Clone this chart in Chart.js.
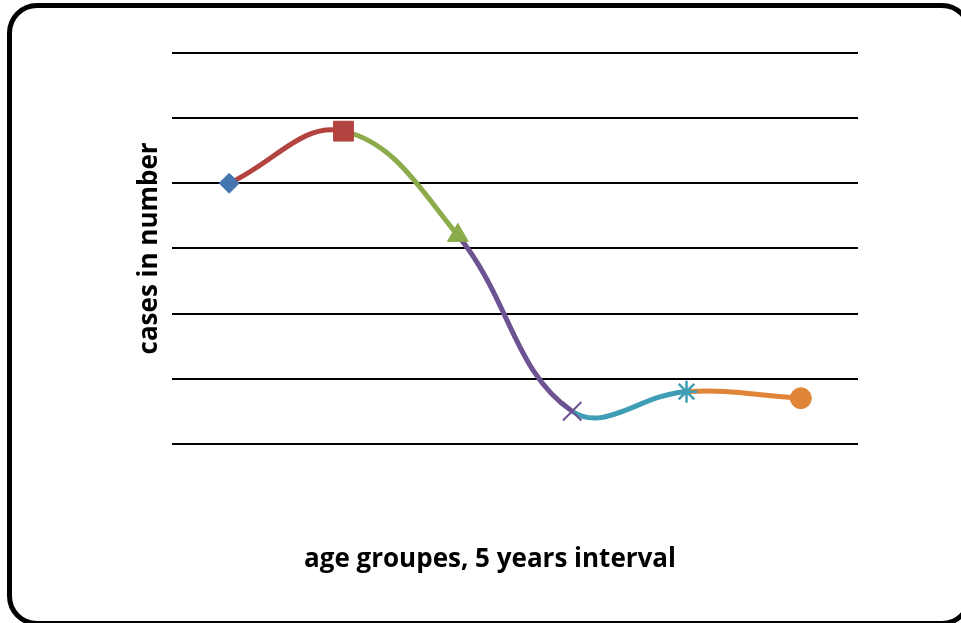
<!DOCTYPE html>
<html lang="en">
<head>
  <meta charset="UTF-8" />
  <title>cases in number by age group</title>
  <script src="https://cdn.jsdelivr.net/npm/chart.js"></script>
  <style>
    html, body {
      margin: 0;
      padding: 0;
      background: #ffffff;
      overflow: hidden;
    }
    .frame {
      position: absolute;
      left: 7px;
      top: 3px;
      width: 965px;
      height: 623px;
      box-sizing: border-box;
      border: 5px solid #000;
      border-radius: 30px;
    }
    .wrap {
      position: absolute;
      left: 0;
      top: 0;
      width: 961px;
      height: 623px;
    }
  </style>
</head>
<body>
  <div class="frame"></div>
  <div class="wrap"><canvas id="casesChart" width="961" height="623"></canvas></div>

  <script>
    // age groups (5 year steps) - no labels are shown on the axis
    const AGE_GROUPS = ["1", "2", "3", "4", "5", "6"];
    const CASES = [4.0, 4.8, 3.2, 0.5, 0.8, 0.7];
    const Y_MIN = 0;
    const Y_MAX = 6;
    const Y_STEP = 1;

    // one colour / marker per point, like the excel original
    const POINT_COLORS = ["#4575b0", "#b3433f", "#8cab4a", "#6d5391", "#3f9db5", "#e08437"];
    const POINT_STYLES = ["rectRot", "rect", "triangle", "crossRot", "star", "circle"];
    const POINT_SIZES = [10, 14, 12, 13, 11, 10.5];

    const TITLE_FONT = { family: "'Open Sans', sans-serif", size: 26, weight: "bold" };

    const ctx = document.getElementById("casesChart").getContext("2d");
    const chart = new Chart(ctx, {
      type: "line",
      data: {
        labels: AGE_GROUPS,
        datasets: [{
          label: "cases",
          data: CASES,
          tension: 0.4,
          borderWidth: 5,
          borderColor: POINT_COLORS[1],
          segment: {
            borderColor: c => POINT_COLORS[c.p1DataIndex]
          },
          pointStyle: POINT_STYLES,
          pointRadius: POINT_SIZES,
          pointHoverRadius: POINT_SIZES,
          pointBackgroundColor: POINT_COLORS,
          pointBorderColor: POINT_COLORS,
          pointBorderWidth: [1, 1, 1, 2, 2.5, 1],
          clip: false
        }]
      },
      options: {
        responsive: false,
        animation: false,
        layout: { padding: { left: 19, top: 53, right: 0, bottom: 0 } },
        plugins: {
          legend: { display: false },
          tooltip: { enabled: false },
          title: {
            display: true,
            position: "bottom",
            text: "age groupes, 5 years interval",
            color: "#000",
            font: TITLE_FONT,
            padding: { top: 0, bottom: 48 }
          }
        },
        scales: {
          x: {
            offset: true,
            grid: { display: false },
            border: { display: false },
            ticks: { display: false },
            afterFit: s => { s.height = 100; }
          },
          y: {
            min: Y_MIN,
            max: Y_MAX,
            ticks: { display: false, stepSize: Y_STEP },
            border: { display: false },
            grid: { color: "#000", lineWidth: 2, drawTicks: false },
            title: {
              display: true,
              text: "cases in number",
              color: "#000",
              font: TITLE_FONT,
              padding: { top: 115, bottom: 0 }
            },
            afterFit: s => { s.width = 153; }
          },
          // empty scale on the right to keep the plot narrower than the frame
          yRight: {
            position: "right",
            grid: { display: false },
            border: { display: false },
            ticks: { display: false },
            afterFit: s => { s.width = 103; }
          }
        }
      }
    });
  </script>
</body>
</html>
